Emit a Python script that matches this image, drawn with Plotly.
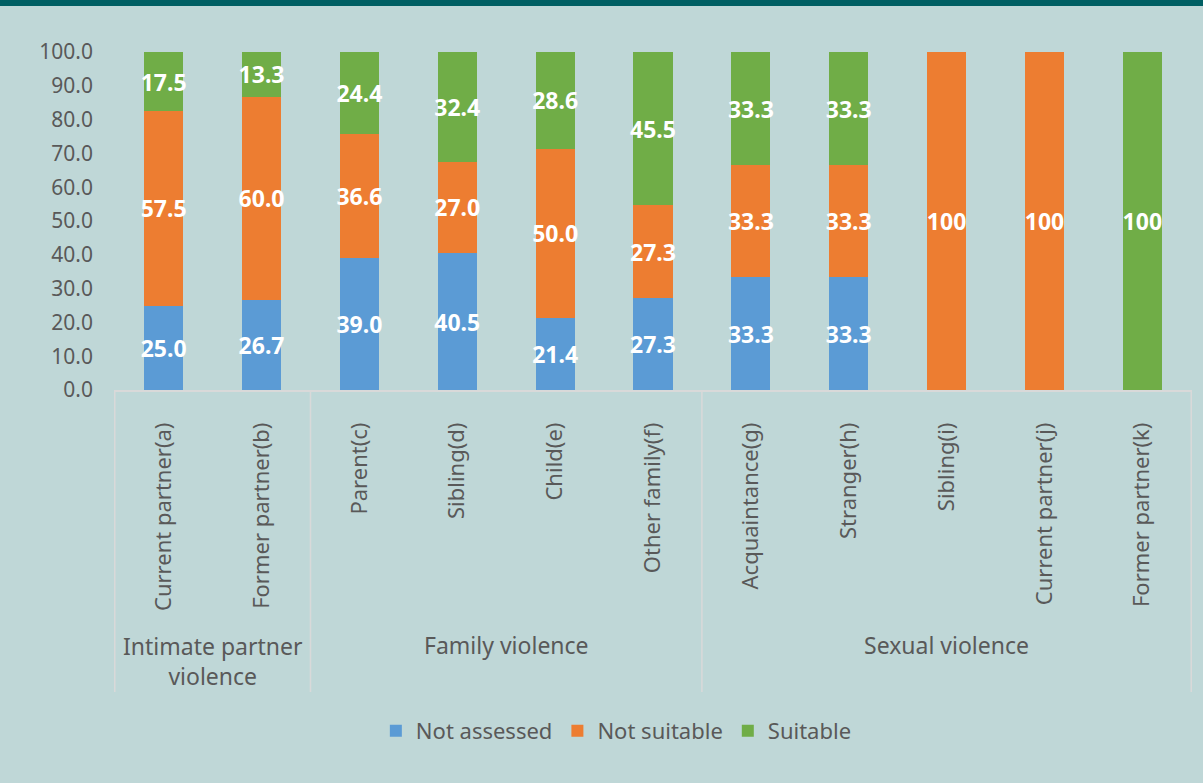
import plotly.graph_objects as go

categories = ["Current partner(a)", "Former partner(b)", "Parent(c)", "Sibling(d)", "Child(e)",
              "Other family(f)", "Acquaintance(g)", "Stranger(h)", "Sibling(i)",
              "Current partner(j)", "Former partner(k)"]
not_assessed = [25.0, 26.7, 39.0, 40.5, 21.4, 27.3, 33.3, 33.3, None, None, None]
not_suitable = [57.5, 60.0, 36.6, 27.0, 50.0, 27.3, 33.3, 33.3, 100, 100, None]
suitable = [17.5, 13.3, 24.4, 32.4, 28.6, 45.5, 33.3, 33.3, None, None, 100]

groups = ["Intimate partner<br>violence", "Family violence", "Sexual violence"]
group_sizes = [2, 4, 5]

series = [("Not assessed", not_assessed, "#5B9BD5"),
          ("Not suitable", not_suitable, "#ED7D31"),
          ("Suitable", suitable, "#70AD47")]

FONT = "Noto Sans"
GREY = "#595959"
BG = "#BFD7D7"
LINE = "#D9D9D9"


def fmt(v):
    if v is None:
        return ""
    return "100" if v >= 100 else f"{v:.1f}"


fig = go.Figure()
for name, vals, color in series:
    fig.add_bar(
        x=categories, y=vals, name=name, marker_color=color, marker_line_width=0,
        text=[fmt(v) for v in vals], textposition="inside", textangle=0,
        insidetextanchor="middle",
        textfont=dict(family=FONT, size=23, color="white", weight="bold"),
    )

# plot area spans y 52..390 px, so paper units per px = 1/338
px = 1 / 338
bottom = -(692 - 390) * px

shapes = []
edges = [-0.5]
for n in group_sizes:
    edges.append(edges[-1] + n)
for e in edges:
    shapes.append(dict(type="line", xref="x", yref="paper", x0=e, x1=e, y0=0, y1=bottom,
                       line=dict(color=LINE, width=1.5)))
# title strip at the very top (cut off in the original)
shapes.append(dict(type="rect", xref="paper", yref="paper", x0=-0.2, x1=1.2,
                   y0=1 + 46 * px, y1=1 + 60 * px, fillcolor="#005F63", line_width=0, layer="below"))

annotations = []
start = -0.5
for g, n in zip(groups, group_sizes):
    two_lines = "<br>" in g
    annotations.append(dict(
        x=start + n / 2, xref="x", y=-(661 - 390) * px if two_lines else -(645 - 390) * px,
        yref="paper", text=g, showarrow=False, yanchor="middle",
        font=dict(family=FONT, size=23, color=GREY),
    ))
    start += n

fig.update_layout(
    barmode="stack",
    bargap=0.6,
    width=1203, height=783,
    margin=dict(l=114, r=11, t=52, b=393),
    paper_bgcolor=BG, plot_bgcolor=BG,
    font=dict(family=FONT, color=GREY),
    uniformtext=dict(minsize=23, mode="show"),
    shapes=shapes,
    annotations=annotations,
    legend=dict(orientation="h", x=0.466, xanchor="center", y=-(731 - 390) * px, yanchor="middle",
                font=dict(size=22, color=GREY), itemwidth=30, traceorder="normal"),
    xaxis=dict(tickangle=-90, tickfont=dict(size=22, color=GREY), showline=True, linecolor=LINE,
               linewidth=1.5, ticks="", ticklabelstandoff=22, showgrid=False),
    yaxis=dict(range=[0, 100], dtick=10, tickformat=".1f", tickfont=dict(size=21, color=GREY),
               showgrid=False, zeroline=False, ticks="", ticklabelstandoff=20),
)

fig.write_html("out.html", config={"displayModeBar": False},
               post_script="document.body.style.margin='0';")
